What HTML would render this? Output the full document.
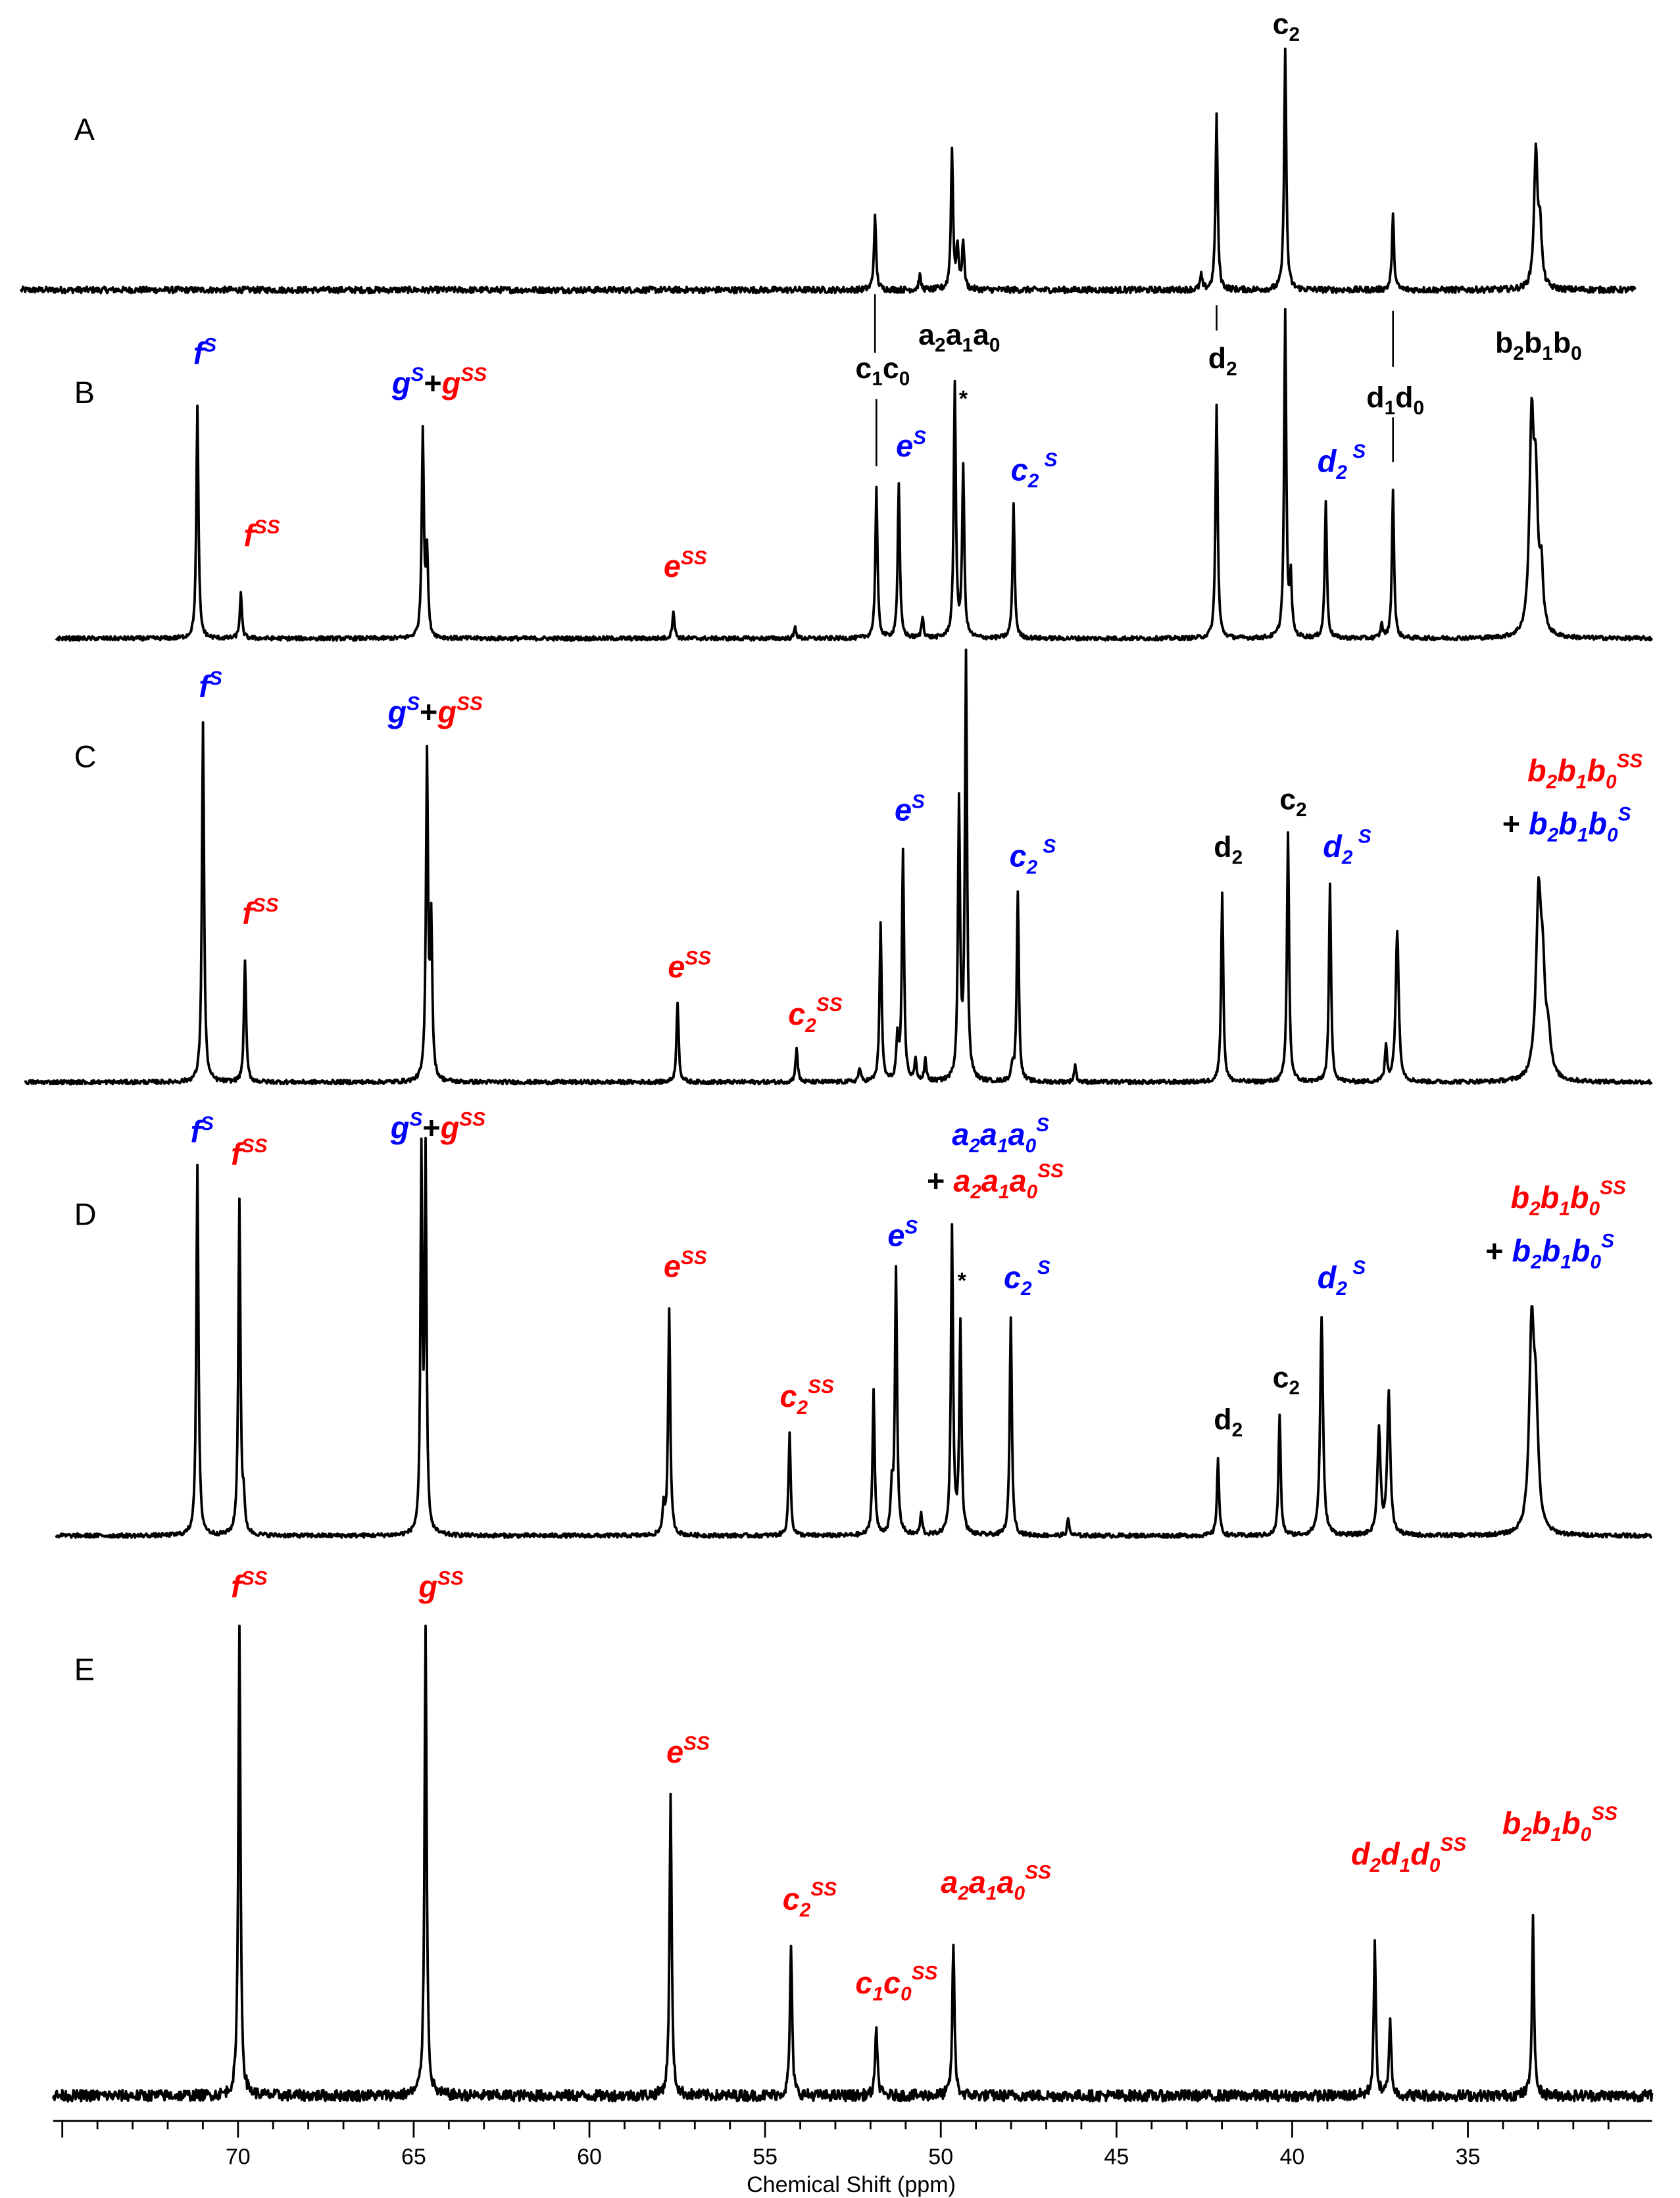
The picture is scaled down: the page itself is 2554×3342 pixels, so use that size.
<!DOCTYPE html>
<html><head><meta charset="utf-8">
<style>
html,body{margin:0;padding:0;background:#fff;}
svg{display:block;}
text{font-family:"Liberation Sans",Arial,sans-serif;}
.l{font-weight:bold;font-style:italic;font-size:22px;}
.k{font-weight:bold;font-size:21px;fill:#000;}
.b{fill:#0000ff;} .r{fill:#ff0000;}
.p{font-weight:bold;font-style:normal;fill:#000;font-size:22px;}
.sub{font-size:14px;}
</style></head>
<body>
<svg id="s" width="2554" height="3342" viewBox="0 0 1200 1570" xmlns="http://www.w3.org/2000/svg">
<g id="spec" fill="none" stroke="#000" stroke-width="2" stroke-linejoin="round"></g>
<g stroke="#000" stroke-width="1.2">
<line x1="625" y1="210" x2="625" y2="252"/><line x1="626" y1="285" x2="626" y2="333"/>
<line x1="869" y1="218" x2="869" y2="236"/>
<line x1="995" y1="222" x2="995" y2="262"/><line x1="995" y1="298" x2="995" y2="330"/>
</g>
<g id="axis" stroke="#000" stroke-width="1.3"></g>
<g font-size="22">
<text x="53" y="100">A</text><text x="53" y="288">B</text><text x="53" y="548">C</text><text x="53" y="875">D</text><text x="53" y="1200">E</text>
</g>
<g font-size="16" text-anchor="middle" id="axlab"></g>
<text x="608" y="1566" font-size="16" text-anchor="middle">Chemical Shift (ppm)</text>

<!-- A -->
<text class="k" x="909" y="24">c<tspan class="sub" dy="5">2</tspan></text>
<!-- B -->
<text class="l b" x="138" y="260">f<tspan class="sub" dy="-9">S</tspan></text>
<text class="l" x="280" y="281"><tspan class="b">g</tspan><tspan class="b sub" dy="-9">S</tspan><tspan class="p" dy="9">+</tspan><tspan class="r">g</tspan><tspan class="r sub" dy="-9">SS</tspan></text>
<text class="l r" x="174" y="390">f<tspan class="sub" dy="-9">SS</tspan></text>
<text class="l r" x="474" y="412">e<tspan class="sub" dy="-9">SS</tspan></text>
<text class="k" x="611" y="270">c<tspan class="sub" dy="5">1</tspan><tspan dy="-5">c</tspan><tspan class="sub" dy="5">0</tspan></text>
<text class="k" x="656" y="246">a<tspan class="sub" dy="5">2</tspan><tspan dy="-5">a</tspan><tspan class="sub" dy="5">1</tspan><tspan dy="-5">a</tspan><tspan class="sub" dy="5">0</tspan></text>
<text x="685" y="290" font-size="16" font-weight="bold">*</text>
<text class="l b" x="640" y="326">e<tspan class="sub" dy="-9">S</tspan></text>
<text class="l b" x="722" y="343">c<tspan class="sub" dy="5">2</tspan><tspan class="sub" dy="-15"> S</tspan></text>
<text class="k" x="863" y="263">d<tspan class="sub" dy="5">2</tspan></text>
<text class="k" x="976" y="291">d<tspan class="sub" dy="5">1</tspan><tspan dy="-5">d</tspan><tspan class="sub" dy="5">0</tspan></text>
<text class="l b" x="941" y="337">d<tspan class="sub" dy="5">2</tspan><tspan class="sub" dy="-15"> S</tspan></text>
<text class="k" x="1068" y="252">b<tspan class="sub" dy="5">2</tspan><tspan dy="-5">b</tspan><tspan class="sub" dy="5">1</tspan><tspan dy="-5">b</tspan><tspan class="sub" dy="5">0</tspan></text>
<!-- C -->
<text class="l b" x="142" y="498">f<tspan class="sub" dy="-9">S</tspan></text>
<text class="l" x="277" y="516"><tspan class="b">g</tspan><tspan class="b sub" dy="-9">S</tspan><tspan class="p" dy="9">+</tspan><tspan class="r">g</tspan><tspan class="r sub" dy="-9">SS</tspan></text>
<text class="l r" x="173" y="660">f<tspan class="sub" dy="-9">SS</tspan></text>
<text class="l r" x="477" y="698">e<tspan class="sub" dy="-9">SS</tspan></text>
<text class="l r" x="563" y="732">c<tspan class="sub" dy="5">2</tspan><tspan class="sub" dy="-15">SS</tspan></text>
<text class="l b" x="639" y="586">e<tspan class="sub" dy="-9">S</tspan></text>
<text class="l b" x="721" y="619">c<tspan class="sub" dy="5">2</tspan><tspan class="sub" dy="-15"> S</tspan></text>
<text class="k" x="867" y="612">d<tspan class="sub" dy="5">2</tspan></text>
<text class="k" x="914" y="578">c<tspan class="sub" dy="5">2</tspan></text>
<text class="l b" x="945" y="612">d<tspan class="sub" dy="5">2</tspan><tspan class="sub" dy="-15"> S</tspan></text>
<text class="l r" x="1091" y="558">b<tspan class="sub" dy="5">2</tspan><tspan dy="-5">b</tspan><tspan class="sub" dy="5">1</tspan><tspan dy="-5">b</tspan><tspan class="sub" dy="5">0</tspan><tspan class="sub" dy="-15">SS</tspan></text>
<text class="l" x="1073" y="596"><tspan class="p">+ </tspan><tspan class="b">b</tspan><tspan class="b sub" dy="5">2</tspan><tspan class="b" dy="-5">b</tspan><tspan class="b sub" dy="5">1</tspan><tspan class="b" dy="-5">b</tspan><tspan class="b sub" dy="5">0</tspan><tspan class="b sub" dy="-15">S</tspan></text>
<!-- D -->
<text class="l b" x="136" y="816">f<tspan class="sub" dy="-9">S</tspan></text>
<text class="l r" x="165" y="832">f<tspan class="sub" dy="-9">SS</tspan></text>
<text class="l" x="279" y="813"><tspan class="b">g</tspan><tspan class="b sub" dy="-9">S</tspan><tspan class="p" dy="9">+</tspan><tspan class="r">g</tspan><tspan class="r sub" dy="-9">SS</tspan></text>
<text class="l b" x="680" y="818">a<tspan class="sub" dy="5">2</tspan><tspan dy="-5">a</tspan><tspan class="sub" dy="5">1</tspan><tspan dy="-5">a</tspan><tspan class="sub" dy="5">0</tspan><tspan class="sub" dy="-15">S</tspan></text>
<text class="l" x="662" y="851"><tspan class="p">+ </tspan><tspan class="r">a</tspan><tspan class="r sub" dy="5">2</tspan><tspan class="r" dy="-5">a</tspan><tspan class="r sub" dy="5">1</tspan><tspan class="r" dy="-5">a</tspan><tspan class="r sub" dy="5">0</tspan><tspan class="r sub" dy="-15">SS</tspan></text>
<text class="l b" x="634" y="890">e<tspan class="sub" dy="-9">S</tspan></text>
<text x="684" y="920" font-size="16" font-weight="bold">*</text>
<text class="l b" x="717" y="920">c<tspan class="sub" dy="5">2</tspan><tspan class="sub" dy="-15"> S</tspan></text>
<text class="l r" x="474" y="912">e<tspan class="sub" dy="-9">SS</tspan></text>
<text class="l r" x="557" y="1005">c<tspan class="sub" dy="5">2</tspan><tspan class="sub" dy="-15">SS</tspan></text>
<text class="k" x="867" y="1021">d<tspan class="sub" dy="5">2</tspan></text>
<text class="k" x="909" y="991">c<tspan class="sub" dy="5">2</tspan></text>
<text class="l b" x="941" y="920">d<tspan class="sub" dy="5">2</tspan><tspan class="sub" dy="-15"> S</tspan></text>
<text class="l r" x="1079" y="863">b<tspan class="sub" dy="5">2</tspan><tspan dy="-5">b</tspan><tspan class="sub" dy="5">1</tspan><tspan dy="-5">b</tspan><tspan class="sub" dy="5">0</tspan><tspan class="sub" dy="-15">SS</tspan></text>
<text class="l" x="1061" y="901"><tspan class="p">+ </tspan><tspan class="b">b</tspan><tspan class="b sub" dy="5">2</tspan><tspan class="b" dy="-5">b</tspan><tspan class="b sub" dy="5">1</tspan><tspan class="b" dy="-5">b</tspan><tspan class="b sub" dy="5">0</tspan><tspan class="b sub" dy="-15">S</tspan></text>
<!-- E -->
<text class="l r" x="165" y="1141">f<tspan class="sub" dy="-9">SS</tspan></text>
<text class="l r" x="299" y="1141">g<tspan class="sub" dy="-9">SS</tspan></text>
<text class="l r" x="476" y="1259">e<tspan class="sub" dy="-9">SS</tspan></text>
<text class="l r" x="559" y="1364">c<tspan class="sub" dy="5">2</tspan><tspan class="sub" dy="-15">SS</tspan></text>
<text class="l r" x="611" y="1424">c<tspan class="sub" dy="5">1</tspan><tspan dy="-5">c</tspan><tspan class="sub" dy="5">0</tspan><tspan class="sub" dy="-15">SS</tspan></text>
<text class="l r" x="672" y="1352">a<tspan class="sub" dy="5">2</tspan><tspan dy="-5">a</tspan><tspan class="sub" dy="5">1</tspan><tspan dy="-5">a</tspan><tspan class="sub" dy="5">0</tspan><tspan class="sub" dy="-15">SS</tspan></text>
<text class="l r" x="965" y="1332">d<tspan class="sub" dy="5">2</tspan><tspan dy="-5">d</tspan><tspan class="sub" dy="5">1</tspan><tspan dy="-5">d</tspan><tspan class="sub" dy="5">0</tspan><tspan class="sub" dy="-15">SS</tspan></text>
<text class="l r" x="1073" y="1310">b<tspan class="sub" dy="5">2</tspan><tspan dy="-5">b</tspan><tspan class="sub" dy="5">1</tspan><tspan dy="-5">b</tspan><tspan class="sub" dy="5">0</tspan><tspan class="sub" dy="-15">SS</tspan></text>
</svg>
<script>
(function(){
var seed=12345;function rnd(){seed=(seed*1103515245+12345)&0x7fffffff;return seed/0x7fffffff;}
var NS="http://www.w3.org/2000/svg";
var specs=[
 {y:207,x0:15,x1:1168,n:2.2,p:[[625,52],[657,10],[680,100],[684,30],[688,35],[858,10],[869,125],[918,172],[995,53],[1097,95,1.5],[1100,40,1.5]]},
 {y:456,x0:40,x1:1180,n:1.5,p:[[141,165],[172,32],[302,148],[305,60],[481,20],[568,8],[626,107],[642,110],[659,15],[682,180],[688,122],[724,95],[869,168],[918,232],[922,40],[947,98],[987,10],[995,106],[1094,145,1.8],[1097,95,1.8],[1101,40,1.5]]},
 {y:773,x0:18,x1:1180,n:1.5,p:[[145,258],[175,88],[305,230],[308,110],[484,58],[569,25],[614,10],[629,112],[641,30],[645,165],[654,15],[661,15],[685,198],[690,303],[727,136],[723,10],[768,12],[873,136],[920,178],[950,140],[990,25],[998,108,1.3],[1099,125,2.2],[1102,60,2],[1106,25,2]]},
 {y:1097,x0:40,x1:1180,n:1.5,p:[[141,265],[171,240],[174,20],[301,265,0.8],[304,265,0.8],[474,20],[478,160],[564,73],[624,103],[637,30],[640,190],[658,15],[680,220],[686,150],[722,157],[763,12],[870,55],[914,87],[944,157,1.2],[985,75,1.3],[992,100,1.3],[1094,140,2],[1097,80,2]]},
 {y:1497,x0:38,x1:1180,n:4,p:[[171,338],[304,338],[479,215],[565,108],[626,50],[681,110],[982,107],[993,55],[1095,125]]}
];
var g=document.getElementById("spec");
specs.forEach(function(s){
 var d="";
 for(var x=s.x0;x<=s.x1;x+=0.5){
  var v=0;
  for(var i=0;i<s.p.length;i++){var w=s.p[i][2]||0.9;var dx=(x-s.p[i][0])/w;v+=s.p[i][1]/(1+dx*dx);}
  v+=(rnd()-0.5)*2*s.n;
  d+=(x==s.x0?"M":"L")+x.toFixed(1)+","+(s.y-v).toFixed(1);
 }
 var p=document.createElementNS(NS,"path");p.setAttribute("d",d);p.setAttribute("stroke-width","1.8");g.appendChild(p);
});
var ax=document.getElementById("axis"),al=document.getElementById("axlab");
function L(a,b,c,d){var l=document.createElementNS(NS,"line");l.setAttribute("x1",a);l.setAttribute("y1",b);l.setAttribute("x2",c);l.setAttribute("y2",d);ax.appendChild(l);}
L(38,1515,1180,1515);
for(var ppm=75;ppm>=31;ppm--){
 var x=170+(70-ppm)*25.1;
 if(x<38||x>1180)continue;
 if(ppm%5==0){L(x,1515,x,1527);if(ppm<75){var t=document.createElementNS(NS,"text");t.setAttribute("x",x);t.setAttribute("y",1546);t.textContent=ppm;al.appendChild(t);}}
 else L(x,1515,x,1521);
}
})();
</script>
</body></html>
